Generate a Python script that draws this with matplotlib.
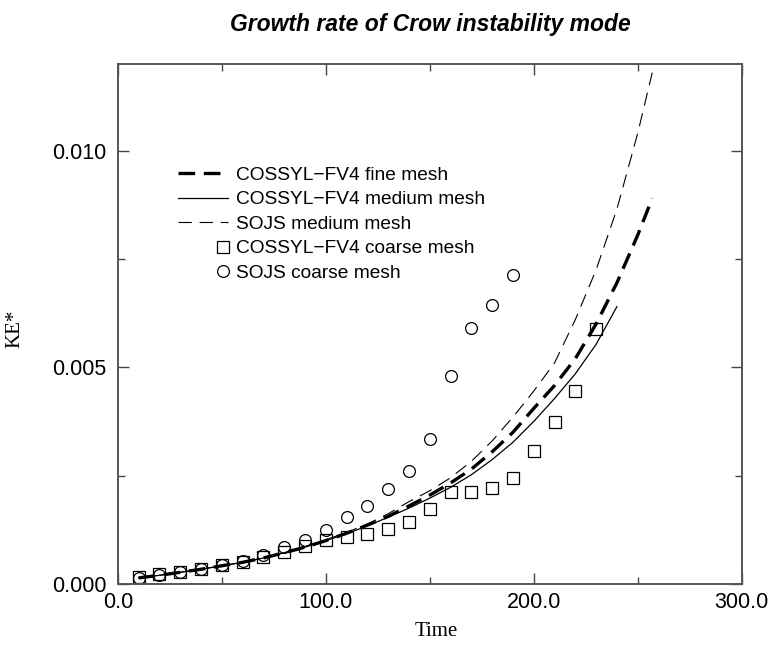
import numpy as np
import matplotlib
matplotlib.use("Agg")
import matplotlib.pyplot as plt
from matplotlib.legend_handler import HandlerLine2DCompound
from matplotlib.ticker import MultipleLocator, FormatStrFormatter

# fine mesh (thick dashed)
fine_t = [10, 20, 30, 40, 50, 60, 70, 80, 90, 100, 110, 120, 130, 140, 150, 160, 170,
          180, 190, 200, 210, 220, 230, 240, 250, 257]
fine_ke = [0.00014, 0.00020, 0.00027, 0.00034, 0.00042, 0.00050, 0.00060, 0.00072, 0.00085,
           0.00100, 0.00117, 0.00136, 0.00156, 0.00180, 0.00205, 0.00233, 0.00265, 0.00305,
           0.00350, 0.00405, 0.00458, 0.00520, 0.00600, 0.00695, 0.00805, 0.00890]

# medium mesh (thin solid)
medium_t = [10, 20, 30, 40, 50, 60, 70, 80, 90, 100, 110, 120, 130, 140, 150, 160, 170,
            180, 190, 200, 210, 220, 230, 240]
medium_ke = [0.00014, 0.00020, 0.00027, 0.00034, 0.00042, 0.00050, 0.00060, 0.00072, 0.00085,
             0.00100, 0.00116, 0.00134, 0.00154, 0.00175, 0.00198, 0.00223, 0.00252, 0.00287,
             0.00327, 0.00375, 0.00428, 0.00485, 0.00553, 0.00640]

# SOJS medium mesh (thin dashed)
sojs_t = [10, 20, 30, 40, 50, 60, 70, 80, 90, 100, 110, 120, 130, 140, 150, 160, 170,
          180, 190, 200, 210, 220, 230, 240, 250, 257]
sojs_ke = [0.00014, 0.00020, 0.00027, 0.00034, 0.00042, 0.00050, 0.00060, 0.00072, 0.00086,
           0.00102, 0.00119, 0.00138, 0.00162, 0.00190, 0.00215, 0.00245, 0.00283, 0.00330,
           0.00385, 0.00445, 0.00510, 0.00610, 0.00725, 0.00865, 0.01040, 0.01180]

# coarse mesh points
coarse_t = [10, 20, 30, 40, 50, 60, 70, 80, 90, 100, 110, 120, 130, 140, 150, 160, 170,
            180, 190, 200, 210, 220, 230]
coarse_ke = [0.00016, 0.00023, 0.00028, 0.00035, 0.00044, 0.00051, 0.00062, 0.00074, 0.00088,
             0.00102, 0.00108, 0.00115, 0.00127, 0.00143, 0.00173, 0.00212, 0.00212, 0.00222,
             0.00245, 0.00307, 0.00374, 0.00446, 0.00589]

sojs_coarse_t = [10, 20, 30, 40, 50, 60, 70, 80, 90, 100, 110, 120, 130, 140, 150, 160, 170,
                 180, 190]
sojs_coarse_ke = [0.00014, 0.00021, 0.00028, 0.00035, 0.00044, 0.00052, 0.00067, 0.00085, 0.00102,
                  0.00125, 0.00155, 0.00180, 0.00220, 0.00260, 0.00335, 0.00480, 0.00590,
                  0.00644, 0.00714]


class RightMarker(HandlerLine2DCompound):
    # put the marker at the right end of the handle, as in the original legend
    def get_xdata(self, legend, xdescent, ydescent, width, height, fontsize):
        xdata, _ = super().get_xdata(legend, xdescent, ydescent, width, height, fontsize)
        return xdata, np.array([width - xdescent - 0.25 * fontsize])


plt.rcParams["font.family"] = ["Liberation Sans", "DejaVu Sans"]

fig = plt.figure(figsize=(7.75, 6.45), dpi=100)
ax = fig.add_axes([0.152, 0.0946, 0.805, 0.8062])

ax.plot(fine_t, fine_ke, color="black", lw=2.4, ls=(0, (5, 2.6)), label="COSSYL\u2212FV4 fine mesh")
ax.plot(medium_t, medium_ke, color="black", lw=0.9, label="COSSYL\u2212FV4 medium mesh")
ax.plot(sojs_t, sojs_ke, color="black", lw=0.8, ls=(0, (12, 7)), label="SOJS medium mesh")
sq, = ax.plot(coarse_t, coarse_ke, ls="none", marker="s", ms=8, mfc="none", mec="black", mew=0.9,
              label="COSSYL\u2212FV4 coarse mesh")
ci, = ax.plot(sojs_coarse_t, sojs_coarse_ke, ls="none", marker="o", ms=8.5, mfc="none", mec="black",
              mew=0.9, label="SOJS coarse mesh")

ax.set_xlim(0, 300)
ax.set_ylim(0, 0.012)
ax.xaxis.set_major_locator(MultipleLocator(100))
ax.xaxis.set_minor_locator(MultipleLocator(50))
ax.yaxis.set_major_locator(MultipleLocator(0.005))
ax.yaxis.set_minor_locator(MultipleLocator(0.0025))
ax.xaxis.set_major_formatter(FormatStrFormatter("%.1f"))
ax.yaxis.set_major_formatter(FormatStrFormatter("%.3f"))
ax.tick_params(which="both", direction="in", top=True, right=True, labelsize=15.5, color="#444444")
ax.tick_params(which="major", length=8, width=1)
ax.tick_params(which="minor", length=5, width=1)
ax.tick_params(axis="x", pad=6)
ax.tick_params(axis="y", pad=8)
for sp in ax.spines.values():
    sp.set_linewidth(1.4)
    sp.set_color("#555555")

ax.set_xlabel("Time", family="Liberation Serif", fontsize=15)
ax.xaxis.set_label_coords(0.51, -0.073)
ax.set_ylabel("KE*", family="Liberation Serif", fontsize=15)
ax.yaxis.set_label_coords(-0.165, 0.49)
ax.yaxis.label.set_va("center")
fig.suptitle("Growth rate of Crow instability mode", x=0.555, y=0.98, fontsize=16.5,
             fontweight="bold", fontstyle="italic")

ax.legend(loc="upper left", bbox_to_anchor=(0.084, 0.818), frameon=False, fontsize=13.8,
          handlelength=2.6, handletextpad=0.45, labelspacing=0.37, borderaxespad=0,
          handler_map={sq: RightMarker(numpoints=1), ci: RightMarker(numpoints=1)})

fig.savefig("out.png", dpi=100)
